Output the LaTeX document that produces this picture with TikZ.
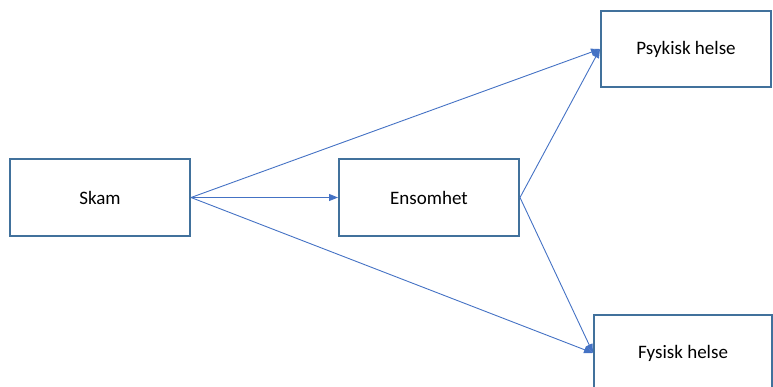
\documentclass[tikz,border=0pt]{standalone}
\usepackage{fontspec}
\setmainfont{Carlito}
\usetikzlibrary{arrows.meta}
\definecolor{boxline}{HTML}{41719C}
\definecolor{arrowline}{HTML}{4472C4}
\begin{document}
\begin{tikzpicture}[x=1pt,y=-1pt,
  box/.style={draw=boxline,line width=2pt,fill=white,minimum width=#1,inner sep=0pt,font=\fontsize{19}{23}\selectfont},
  conn/.style={draw=arrowline,line width=0.9pt,-{Triangle[length=9pt,width=7pt]}}]
\useasboundingbox (0,0) rectangle (773,386);
\clip (0,0) rectangle (773,386);
\node[box=180pt,minimum height=77pt] (skam) at (100,197.5) {Skam};
\node[box=180pt,minimum height=77pt] (ens) at (429,197.5) {Ensomhet};
\node[box=170pt,minimum height=76pt] (psy) at (686,49) {Psykisk helse};
\node[box=178pt,minimum height=76pt] (fys) at (683,353) {Fysisk helse};
\draw[conn] (skam.east) -- (ens.west);
\draw[conn] (skam.east) -- (psy.west);
\draw[conn] (skam.east) -- (fys.west);
\draw[conn] (ens.east) -- (psy.west);
\draw[conn] (ens.east) -- (fys.west);
\end{tikzpicture}
\end{document}
